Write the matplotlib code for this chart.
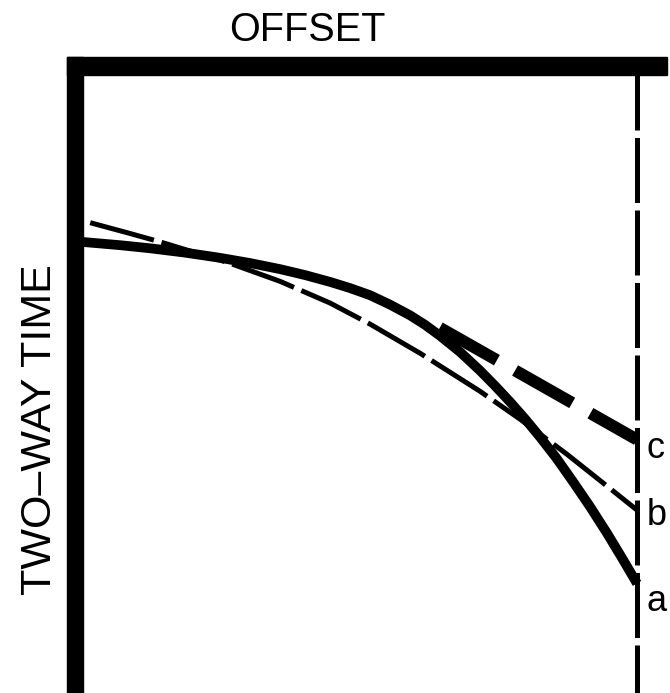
import matplotlib
matplotlib.use("Agg")
import matplotlib.pyplot as plt
from matplotlib.patches import Rectangle

# ---- data (normalized offset 0..1, normalized two-way time 0..1, time increasing downward)
offset_a = [0.000, 0.067, 0.121, 0.184, 0.247, 0.301, 0.356, 0.401, 0.446, 0.482,
            0.518, 0.554, 0.590, 0.617, 0.644, 0.681, 0.717, 0.744, 0.771, 0.798,
            0.825, 0.854, 0.884, 0.915, 0.946, 0.973, 1.000]
time_a   = [0.2702, 0.2754, 0.2804, 0.2874, 0.2958, 0.3042, 0.3142, 0.3238, 0.3348, 0.3448,
            0.3563, 0.3715, 0.3887, 0.4040, 0.4217, 0.4485, 0.4786, 0.5032, 0.5291, 0.5566,
            0.5859, 0.6193, 0.6574, 0.6982, 0.7416, 0.7816, 0.8227]

offset_b = [0.013, 0.079, 0.139, 0.260, 0.356, 0.446, 0.518, 0.608, 0.717, 0.789, 0.874, 0.933, 1.000]
time_b   = [0.239, 0.255, 0.270, 0.303, 0.334, 0.369, 0.403, 0.450, 0.512, 0.557, 0.614, 0.656, 0.704]

offset_c = [0.644, 1.000]
time_c   = [0.409, 0.590]

curve_labels = ["a", "b", "c"]
label_times = [0.852, 0.713, 0.605]

W, H = 670, 693
fig = plt.figure(figsize=(W / 100, H / 100), dpi=100)
fig.patch.set_facecolor("white")

ax = fig.add_axes([83 / W, 0, (637 - 83) / W, (693 - 75) / H])
ax.set_xlim(0, 1)
ax.set_ylim(1, 0)
ax.set_axis_off()

# frame: thick top and left bars
fig.patches.append(Rectangle((67 / W, (H - 75) / H), 600 / W, 18 / H,
                             transform=fig.transFigure, color="black", zorder=5))
fig.patches.append(Rectangle((67 / W, 0), 16 / W, (H - 57) / H,
                             transform=fig.transFigure, color="black", zorder=5))

# right dashed boundary
ax.plot([1, 1], [0, 1], color="black", lw=3.6, linestyle=(2.0, (13, 1.5)),
        clip_on=False)

# curves
ax.plot(offset_a, time_a, color="black", lw=7, solid_capstyle="butt",
        solid_joinstyle="round", clip_on=False)
ax.plot(offset_b, time_b, color="black", lw=3.6, linestyle=(0, (13.2, 1.6)),
        clip_on=False)
ax.plot(offset_c, time_c, color="black", lw=8.6, linestyle=(0, (5.5, 1.75)),
        clip_on=False)

for lab, t in zip(curve_labels, label_times):
    ax.text(1.018, t, lab, fontsize=26, family="Liberation Sans",
            ha="left", va="center", clip_on=False)

fig.text(307 / W, 1 - 30 / H, "OFFSET", fontsize=28.5, family="Liberation Sans",
         ha="center", va="center")
fig.text(40 / W, 1 - 430 / H, "TWO–WAY TIME", fontsize=31, family="Liberation Sans",
         ha="center", va="center", rotation=90)

fig.savefig("out.png", dpi=100, facecolor="white")
